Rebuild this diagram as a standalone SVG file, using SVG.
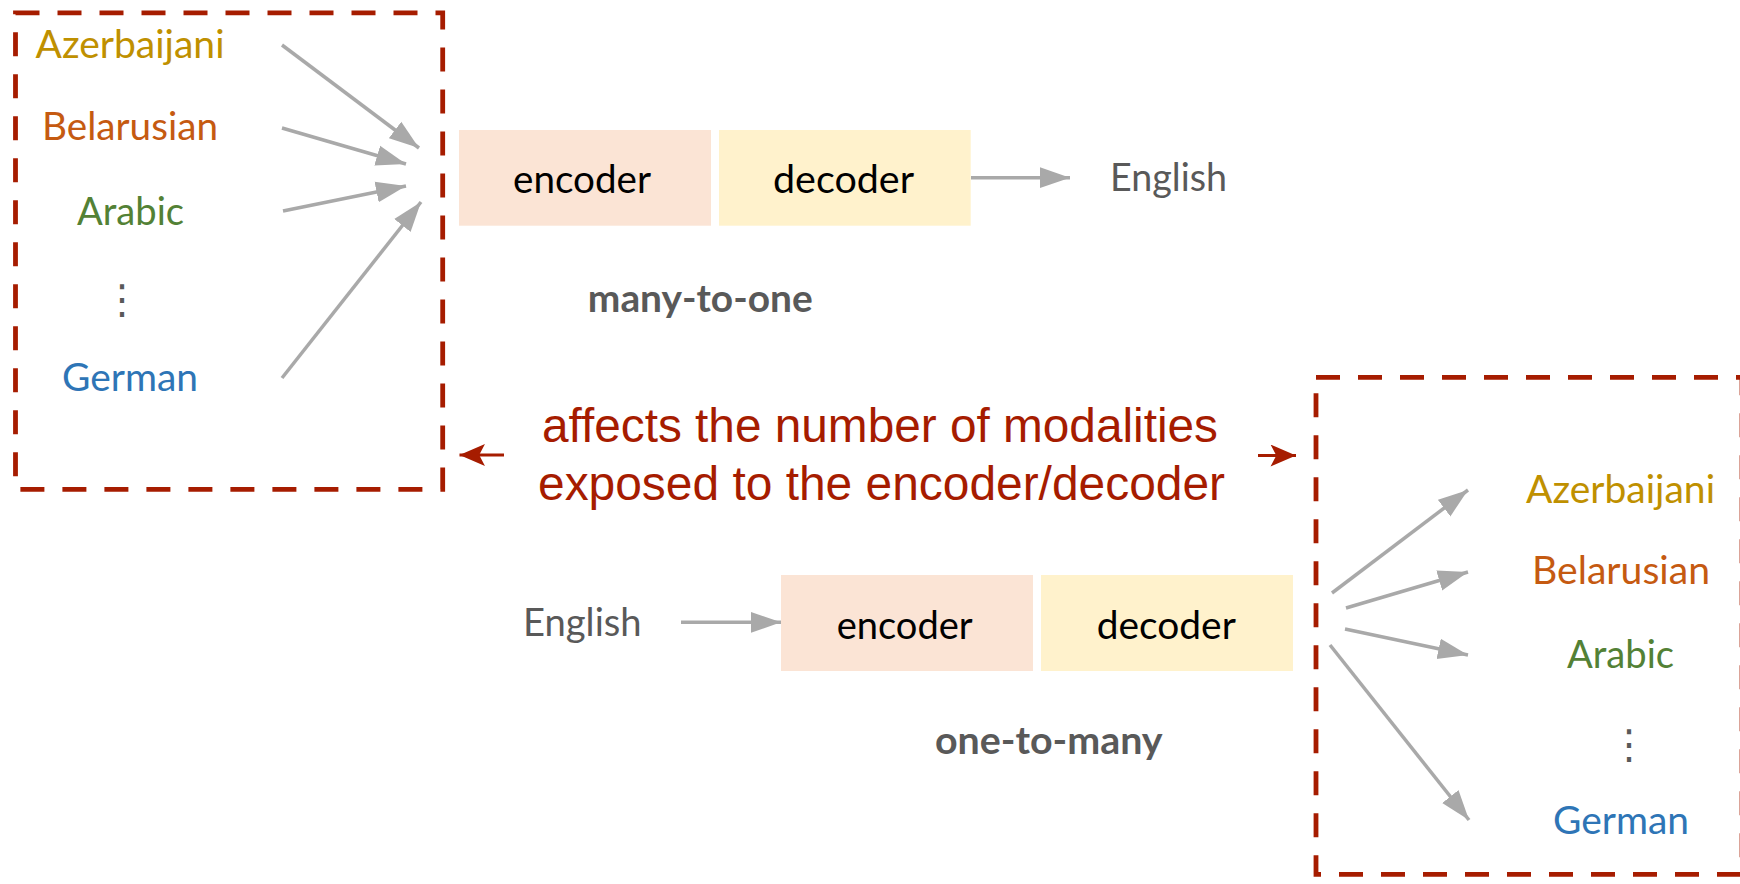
<svg xmlns="http://www.w3.org/2000/svg" width="1740" height="884" viewBox="0 0 1740 884">
<style>
.lbl{font-family:Lato,"Open Sans","Noto Sans",sans-serif;font-size:38px;text-anchor:middle}
.blk{fill:#000}
.gry{fill:#595959}
.bold{font-weight:bold}
.az{fill:#bf9000}.be{fill:#c55a11}.ar{fill:#538135}.de{fill:#2e75b6}
.dots{font-family:"DejaVu Sans",sans-serif;font-size:40px;fill:#595959;text-anchor:middle}
.red{font-family:"Liberation Sans",Arial,sans-serif;font-size:48px;fill:#a61c00;text-anchor:middle}
.enc{fill:#fbe4d5}.dec{fill:#fff2cc}
.box{fill:none;stroke:#a61c00;stroke-width:4.8;stroke-dasharray:24 18}
.ga{stroke:#a9a9a9;stroke-width:3.5;fill:none;marker-end:url(#gh)}
.ra{stroke:#a61c00;stroke-width:3;fill:none;marker-end:url(#rh)}
</style>
<defs>
<marker id="gh" markerUnits="userSpaceOnUse" markerWidth="30" markerHeight="22" viewBox="0 0 26 18" refX="26" refY="9" orient="auto">
<path d="M0,0 L26,9 L0,18 z" fill="#a9a9a9"/>
</marker>
<marker id="rh" markerUnits="userSpaceOnUse" markerWidth="26" markerHeight="22" viewBox="0 0 22 19" refX="22" refY="9.5" orient="auto">
<path d="M0,0 L22,9.5 L0,19 L5,9.5 z" fill="#a61c00"/>
</marker>
</defs>

<g id="left-group">
<rect class="box" x="15.5" y="12.8" width="427.2" height="476.5"/>
<text class="lbl az" x="130" y="58" textLength="189" lengthAdjust="spacingAndGlyphs">Azerbaijani</text>
<text class="lbl be" x="130" y="140" textLength="176" lengthAdjust="spacingAndGlyphs">Belarusian</text>
<text class="lbl ar" x="130.5" y="225" textLength="107" lengthAdjust="spacingAndGlyphs">Arabic</text>
<text class="dots" x="122" y="313">⋮</text>
<text class="lbl de" x="130" y="391" textLength="136" lengthAdjust="spacingAndGlyphs">German</text>
</g>

<g id="top-encoder">
<rect class="enc" x="459" y="130" width="252" height="95.7"/>
<text class="lbl blk" x="582" y="193" textLength="138" lengthAdjust="spacingAndGlyphs">encoder</text>
</g>
<g id="top-decoder">
<rect class="dec" x="719" y="130" width="251.7" height="95.7"/>
<text class="lbl blk" x="843.5" y="193" textLength="141" lengthAdjust="spacingAndGlyphs">decoder</text>
</g>
<g id="top-english">
<text class="lbl gry" x="1168.5" y="191" textLength="117" lengthAdjust="spacingAndGlyphs">English</text>
</g>
<g id="many-to-one">
<text class="lbl gry bold" x="700.3" y="311.7" textLength="225" lengthAdjust="spacingAndGlyphs">many-to-one</text>
</g>

<g id="caption">
<text class="red" x="880" y="442" textLength="676" lengthAdjust="spacingAndGlyphs">affects the number of modalities</text>
<text class="red" x="881.5" y="500" textLength="687" lengthAdjust="spacingAndGlyphs">exposed to the encoder/decoder</text>
</g>

<g id="bottom-english">
<text class="lbl gry" x="582.3" y="636" textLength="118.7" lengthAdjust="spacingAndGlyphs">English</text>
</g>
<g id="bottom-encoder">
<rect class="enc" x="781" y="575" width="252" height="96"/>
<text class="lbl blk" x="904.7" y="638.7" textLength="136" lengthAdjust="spacingAndGlyphs">encoder</text>
</g>
<g id="bottom-decoder">
<rect class="dec" x="1041" y="575" width="252" height="96"/>
<text class="lbl blk" x="1166.3" y="639" textLength="139" lengthAdjust="spacingAndGlyphs">decoder</text>
</g>
<g id="one-to-many">
<text class="lbl gry bold" x="1048.8" y="754" textLength="227.7" lengthAdjust="spacingAndGlyphs">one-to-many</text>
</g>

<g id="right-group">
<rect class="box" x="1316" y="377.3" width="426" height="497"/>
<text class="lbl az" x="1620.5" y="503" textLength="189" lengthAdjust="spacingAndGlyphs">Azerbaijani</text>
<text class="lbl be" x="1621" y="584" textLength="178" lengthAdjust="spacingAndGlyphs">Belarusian</text>
<text class="lbl ar" x="1620.5" y="668" textLength="107" lengthAdjust="spacingAndGlyphs">Arabic</text>
<text class="dots" x="1629" y="758">⋮</text>
<text class="lbl de" x="1621" y="834" textLength="136" lengthAdjust="spacingAndGlyphs">German</text>
</g>

<g id="connectors">
<line class="ga" x1="282" y1="45" x2="419" y2="148"/>
<line class="ga" x1="282" y1="128" x2="406" y2="164"/>
<line class="ga" x1="283" y1="211" x2="406" y2="186"/>
<line class="ga" x1="282" y1="378" x2="421" y2="202"/>
<line class="ga" x1="971" y1="177.7" x2="1070" y2="177.7"/>
<line class="ga" x1="681" y1="622.3" x2="781" y2="622.3"/>
<line class="ga" x1="1332" y1="593" x2="1468" y2="490"/>
<line class="ga" x1="1346" y1="608" x2="1468" y2="572"/>
<line class="ga" x1="1345" y1="629" x2="1468" y2="655"/>
<line class="ga" x1="1330" y1="645" x2="1469" y2="820"/>
<line class="ra" x1="504" y1="455" x2="459.5" y2="455"/>
<line class="ra" x1="1258" y1="455.5" x2="1296" y2="455.5"/>
</g>
</svg>
